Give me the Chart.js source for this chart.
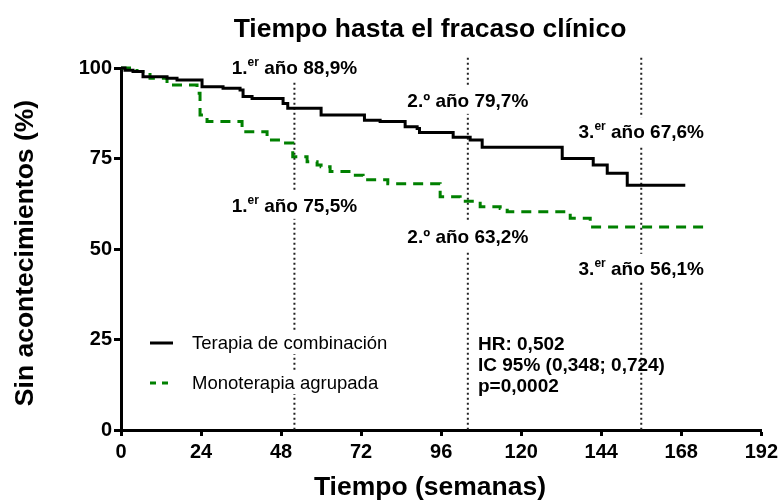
<!DOCTYPE html>
<html>
<head>
<meta charset="utf-8">
<script src="https://cdn.jsdelivr.net/npm/chart.js@4.4.0/dist/chart.umd.min.js"></script>
<style>
    body { margin: 0; background: #fff; }
    #wrap { width: 782px; height: 504px; }
</style>
</head>
<body>
<div id="wrap"><canvas id="km" width="782" height="504"></canvas></div>
<script>
// Kaplan-Meier estimates (weeks, % event free)
var comboWeeks = [0, 1.2, 3.6, 6.6, 13.8, 16.8, 24.3, 30.6, 35.7, 36.6, 39.3, 48.6, 50, 60, 73, 77.7, 85.2, 88.8, 89.5, 99.6, 104.7, 108.3, 132.3, 141.6, 145.8, 151.8, 169.2];
var comboSurv = [100, 99.4, 99.0, 97.6, 97.2, 96.7, 94.8, 94.4, 93.9, 92.1, 91.6, 90.2, 88.9, 87.0, 85.6, 85.2, 83.8, 83.3, 82.2, 80.9, 80.1, 78.1, 75.0, 73.2, 70.9, 67.6, 67.6];
var monoWeeks = [0, 4.8, 8.7, 13.8, 22.8, 23.7, 25.8, 36.3, 43.8, 48.6, 51.5, 55.8, 58.8, 60, 62.7, 69.6, 72.6, 80, 95.7, 101.7, 102.6, 107.7, 113.7, 115.8, 134.7, 140.7, 175.8];
var monoSurv = [100, 99.0, 97.2, 95.3, 93.0, 87.0, 85.2, 82.4, 80.1, 79.3, 75.5, 74.1, 73.2, 72.7, 71.4, 70.4, 69.1, 68.0, 64.4, 64.0, 63.2, 61.7, 61.2, 60.3, 58.5, 56.1, 56.1];

var seriesNames = ["Terapia de combinación", "Monoterapia agrupada"];
var yearWeeks = [52, 104, 156];
var yearPrefix = ["1.", "2.º", "3."];
var yearSup = ["er", "", "er"];
var comboAtYear = ["88,9%", "79,7%", "67,6%"];
var monoAtYear = ["75,5%", "63,2%", "56,1%"];
var statLines = ["HR: 0,502", "IC 95% (0,348; 0,724)", "p=0,0002"];

var xTicks = [0, 24, 48, 72, 96, 120, 144, 168, 192];
var yTicks = [0, 25, 50, 75, 100];

var FONT = "'Liberation Sans', Arial, Helvetica, sans-serif";
var GREEN = "#008000";

function toPoints(xs, ys) {
    return xs.map(function (x, i) {
        return { x: x, y: ys[i] };
    });
}

// label heights in axis units (upper = combination, lower = monotherapy)
var upperLabelY = [100.3, 91.2, 82.5];
var lowerLabelY = [62.2, 53.6, 44.8];

function yearLabel(ctx, cx, cy, prefix, sup, value) {
    var big = "bold 19px " + FONT;
    var small = "bold 12px " + FONT;
    var rest = " año " + value;
    ctx.font = big;
    var w1 = ctx.measureText(prefix).width;
    var w3 = ctx.measureText(rest).width;
    ctx.font = small;
    var w2 = sup ? ctx.measureText(sup).width : 0;
    var total = w1 + w2 + w3;
    var x = cx - total / 2;
    ctx.fillStyle = "#fff";
    ctx.fillRect(x - 4, cy - 14, total + 8, 28);
    ctx.fillStyle = "#000";
    ctx.textBaseline = "alphabetic";
    ctx.textAlign = "left";
    var base = cy + 7;
    ctx.font = big;
    ctx.fillText(prefix, x, base);
    if (sup) {
        ctx.font = small;
        ctx.fillText(sup, x + w1, base - 8);
    }
    ctx.font = big;
    ctx.fillText(rest, x + w1 + w2, base);
}

var annotate = {
    id: "annotate",
    afterDatasetsDraw: function (chart) {
        var ctx = chart.ctx;
        var xs = chart.scales.x;
        var ys = chart.scales.y;
        ctx.save();

        yearWeeks.forEach(function (w, i) {
            var px = xs.getPixelForValue(w);
            yearLabel(ctx, px, ys.getPixelForValue(upperLabelY[i]), yearPrefix[i], yearSup[i], comboAtYear[i]);
            yearLabel(ctx, px, ys.getPixelForValue(lowerLabelY[i]), yearPrefix[i], yearSup[i], monoAtYear[i]);
        });

        // legend
        var rows = [343, 383];
        ctx.font = "18.5px " + FONT;
        ctx.textBaseline = "middle";
        ctx.textAlign = "left";
        rows.forEach(function (ry, i) {
            ctx.fillStyle = "#fff";
            ctx.fillRect(145, ry - 11, 250, 22);
            ctx.beginPath();
            ctx.lineWidth = 3;
            if (i === 0) {
                ctx.strokeStyle = "#000";
                ctx.setLineDash([]);
                ctx.moveTo(150, ry);
                ctx.lineTo(173, ry);
            } else {
                ctx.strokeStyle = GREEN;
                ctx.setLineDash([6, 6]);
                ctx.moveTo(150, ry);
                ctx.lineTo(170, ry);
            }
            ctx.stroke();
            ctx.setLineDash([]);
            ctx.fillStyle = "#000";
            ctx.fillText(seriesNames[i], 192, ry + 1);
        });

        // hazard ratio box
        ctx.font = "bold 19px " + FONT;
        ctx.textBaseline = "alphabetic";
        statLines.forEach(function (t, i) {
            ctx.fillText(t, 478, 350 + i * 21);
        });

        // titles
        ctx.textAlign = "center";
        ctx.font = "bold 26.5px " + FONT;
        ctx.fillText("Tiempo hasta el fracaso clínico", 430, 37);
        ctx.fillText("Tiempo (semanas)", 430, 495);
        ctx.translate(33, 253);
        ctx.rotate(-Math.PI / 2);
        ctx.fillText("Sin acontecimientos (%)", 0, 0);

        ctx.restore();
    },
};

var datasets = [
    {
        label: seriesNames[0],
        data: toPoints(comboWeeks, comboSurv),
        borderColor: "#000",
        borderWidth: 3,
        stepped: true,
        pointRadius: 0,
        fill: false,
        clip: false,
    },
    {
        label: seriesNames[1],
        data: toPoints(monoWeeks, monoSurv),
        borderColor: GREEN,
        borderWidth: 3,
        borderDash: [10, 7],
        stepped: true,
        pointRadius: 0,
        fill: false,
        clip: false,
    },
];

yearWeeks.forEach(function (w) {
    datasets.push({
        data: [{ x: w, y: 102.8 }, { x: w, y: 0 }],
        borderColor: "#222",
        borderWidth: 2,
        borderDash: [2, 3],
        pointRadius: 0,
        fill: false,
        clip: false,
    });
});

var ctx = document.getElementById("km").getContext("2d");
var kmChart = new Chart(ctx, {
    type: "line",
    data: { datasets: datasets },
    options: {
        responsive: false,
        animation: false,
        events: [],
        layout: { padding: { top: 68, right: 20, bottom: 0, left: 0 } },
        plugins: {
            legend: { display: false },
            tooltip: { enabled: false },
            title: { display: false },
        },
        scales: {
            x: {
                type: "linear",
                min: 0,
                max: 192,
                afterBuildTicks: function (scale) {
                    scale.ticks = xTicks.map(function (v) { return { value: v }; });
                },
                afterFit: function (scale) {
                    scale.height = 74;
                },
                ticks: {
                    color: "#000",
                    font: { family: FONT, size: 20, weight: "bold" },
                    padding: 4,
                    maxRotation: 0,
                },
                grid: {
                    display: true,
                    drawOnChartArea: false,
                    drawTicks: true,
                    tickLength: 6,
                    tickWidth: 3,
                    tickColor: "#000",
                },
                border: { display: true, color: "#000", width: 3 },
            },
            y: {
                type: "linear",
                min: 0,
                max: 100,
                afterBuildTicks: function (scale) {
                    scale.ticks = yTicks.map(function (v) { return { value: v }; });
                },
                afterFit: function (scale) {
                    scale.width = 121;
                },
                ticks: {
                    color: "#000",
                    font: { family: FONT, size: 20, weight: "bold" },
                    padding: 2,
                },
                grid: {
                    display: true,
                    drawOnChartArea: false,
                    drawTicks: true,
                    tickLength: 7,
                    tickWidth: 3,
                    tickColor: "#000",
                },
                border: { display: true, color: "#000", width: 3 },
            },
        },
    },
    plugins: [annotate],
});
</script>
</body>
</html>
